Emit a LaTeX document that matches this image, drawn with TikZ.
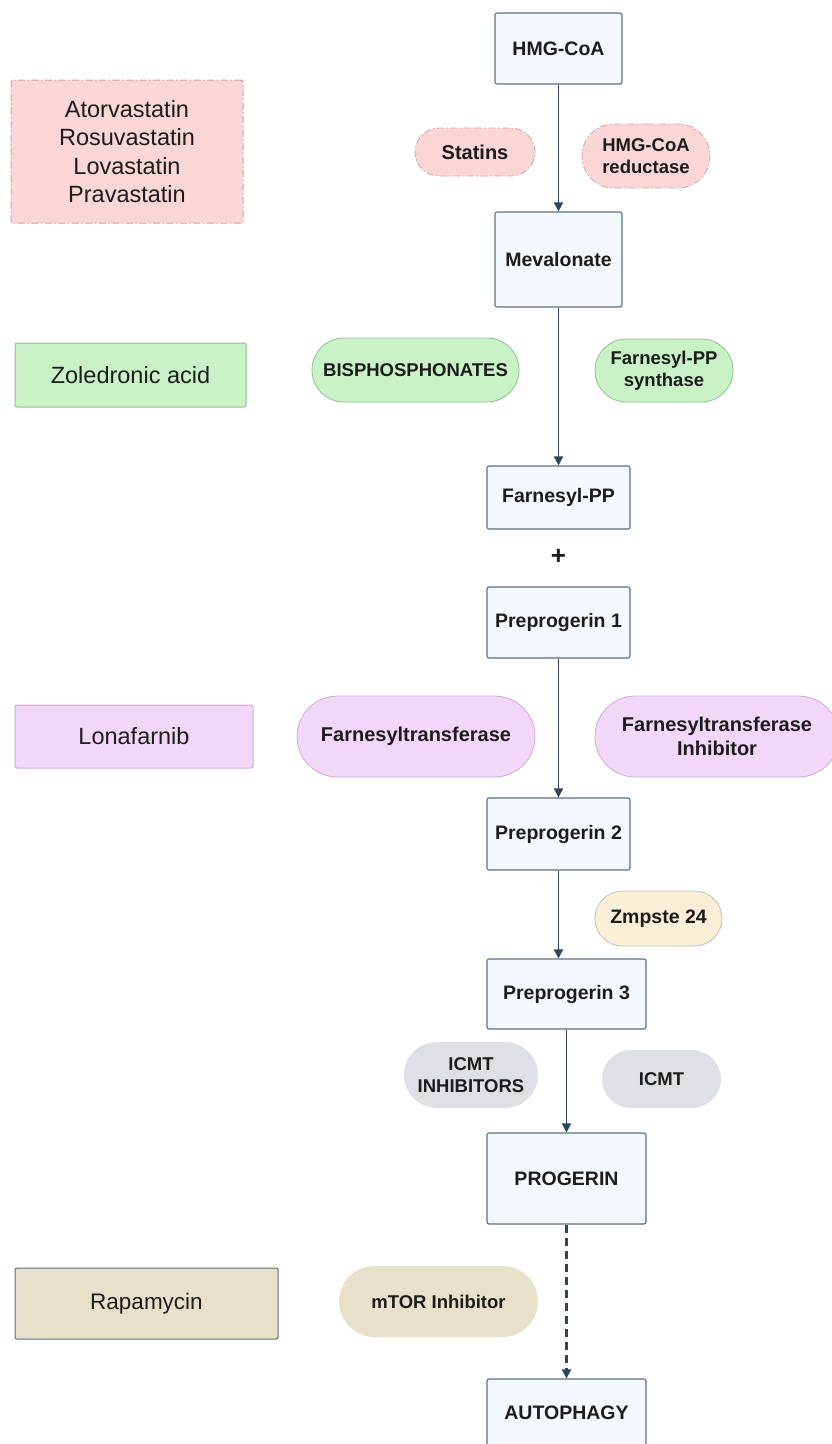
\documentclass[tikz,border=0pt]{standalone}
\usepackage{fontspec}
\setmainfont{Liberation Sans}
\usetikzlibrary{positioning,shapes.misc,arrows.meta}

\definecolor{stepfill}{HTML}{F3F8FC}
\definecolor{stepline}{HTML}{5B6F86}
\definecolor{arrowcol}{HTML}{2E4560}
\definecolor{textcol}{HTML}{1C1C1C}
\definecolor{statinfill}{HTML}{FAD6D6}
\definecolor{statinline}{HTML}{C9A3A6}
\definecolor{bisfill}{HTML}{C9F2C6}
\definecolor{bisline}{HTML}{8DC08A}
\definecolor{ftfill}{HTML}{F3D7F8}
\definecolor{ftline}{HTML}{CFA9D4}
\definecolor{zmpfill}{HTML}{FBEED6}
\definecolor{zmpline}{HTML}{B9C2BE}
\definecolor{icmtfill}{HTML}{DEE0E4}
\definecolor{mtorfill}{HTML}{E8E1C9}

\begin{document}
\begin{tikzpicture}[
    x=1pt, y=-1pt,
    every node/.style={text=textcol, inner sep=0pt, align=center},
    stepbox/.style={rectangle, draw=stepline, fill=stepfill, line width=1.1pt,
      rounded corners=2pt, font=\bfseries\fontsize{19.5}{23}\selectfont},
    pill/.style={rounded rectangle, line width=0.8pt,
      font=\bfseries\fontsize{18.5}{22.5}\selectfont},
    drugbox/.style={rectangle, line width=1pt, rounded corners=2pt,
      font=\fontsize{23.5}{28.5}\selectfont},
    dashdot/.style={dash pattern=on 7pt off 2.5pt on 1.5pt off 2.5pt},
    flow/.style={draw=arrowcol, line width=1.6pt,
      -{Triangle[width=9pt,length=9pt]}}
  ]

  \useasboundingbox (0,0) rectangle (832,1444);
  \clip (0,0) rectangle (832,1444);

  % Pathway steps
  \node[stepbox, minimum width=127pt, minimum height=71pt] (hmg) at (558.5,48.5) {HMG-CoA};
  \node[stepbox, minimum width=127pt, minimum height=95pt] (meva) at (558.5,259.5) {Mevalonate};
  \node[stepbox, minimum width=143pt, minimum height=63pt] (fpp) at (558.5,497.5) {Farnesyl-PP};
  \node[font=\bfseries\fontsize{26}{26}\selectfont] (plus) at (558.5,557) {+};
  \node[stepbox, minimum width=143pt, minimum height=71pt] (pre1) at (558.5,622.5) {Preprogerin 1};
  \node[stepbox, minimum width=143pt, minimum height=72pt] (pre2) at (558.5,834) {Preprogerin 2};
  \node[stepbox, minimum width=159pt, minimum height=70pt] (pre3) at (566.5,994) {Preprogerin 3};
  \node[stepbox, minimum width=159pt, minimum height=91pt] (prog) at (566.5,1178.5) {PROGERIN};
  \node[stepbox, minimum width=159pt, minimum height=68pt] (auto) at (566.5,1413) {AUTOPHAGY};

  % Statins row
  \node[drugbox, draw=statinline, fill=statinfill, dashdot,
    minimum width=232pt, minimum height=143pt] (statdrugs) at (127,151.5)
    {Atorvastatin\\Rosuvastatin\\Lovastatin\\Pravastatin};
  \node[pill, draw=statinline, fill=statinfill, dashdot,
    font=\bfseries\fontsize{20}{23}\selectfont,
    minimum width=120pt, minimum height=48pt] (statins) at (475,152) {Statins};
  \node[pill, draw=statinline, fill=statinfill, dashdot,
    minimum width=128pt, minimum height=64pt] (hmgr) at (646,156) {HMG-CoA\\reductase};

  % Bisphosphonates row
  \node[drugbox, draw=bisline, fill=bisfill,
    minimum width=231pt, minimum height=64pt] (zol) at (130.5,375) {Zoledronic acid};
  \node[pill, draw=bisline, fill=bisfill,
    minimum width=207pt, minimum height=64pt] (bisph) at (415.5,370) {BISPHOSPHONATES};
  \node[pill, draw=bisline, fill=bisfill,
    minimum width=138pt, minimum height=63pt] (fpps) at (664,370.5) {Farnesyl-PP\\synthase};

  % Farnesyltransferase row
  \node[drugbox, draw=ftline, fill=ftfill,
    minimum width=238pt, minimum height=63pt] (lona) at (134,736.5) {Lonafarnib};
  \node[pill, draw=ftline, fill=ftfill, font=\bfseries\fontsize{20}{23.5}\selectfont,
    minimum width=238pt, minimum height=81pt] (ftase) at (416,736.5) {Farnesyltransferase};
  \node[pill, draw=ftline, fill=ftfill, font=\bfseries\fontsize{20}{23.5}\selectfont,
    minimum width=244pt, minimum height=81pt] (fti) at (717,736.5) {Farnesyltransferase\\Inhibitor};

  % Zmpste and ICMT
  \node[pill, draw=zmpline, fill=zmpfill, font=\bfseries\fontsize{19.5}{23}\selectfont,
    minimum width=127pt, minimum height=55pt] (zmp) at (658.5,918.5) {Zmpste 24};
  \node[pill, fill=icmtfill, minimum width=134pt, minimum height=66pt] (icmti) at (471,1075) {ICMT\\INHIBITORS};
  \node[pill, fill=icmtfill, minimum width=119pt, minimum height=58pt] (icmt) at (661.5,1079) {ICMT};

  % mTOR row
  \node[drugbox, draw=stepline, fill=mtorfill, font=\fontsize{22.5}{27}\selectfont,
    minimum width=263pt, minimum height=71pt] (rapa) at (146.5,1303.5) {Rapamycin};
  \node[pill, fill=mtorfill, minimum width=199pt, minimum height=71pt] (mtor) at (438.5,1301.5) {mTOR Inhibitor};

  % Arrows
  \draw[flow] (hmg) -- (meva);
  \draw[flow] (meva) -- (fpp);
  \draw[flow] (pre1) -- (pre2);
  \draw[flow] (pre2.south) -- (pre2.south |- pre3.north);
  \draw[flow] (pre3) -- (prog);
  \draw[flow, dash pattern=on 8pt off 5pt, line width=2.2pt] (prog) -- (auto);

\end{tikzpicture}
\end{document}
